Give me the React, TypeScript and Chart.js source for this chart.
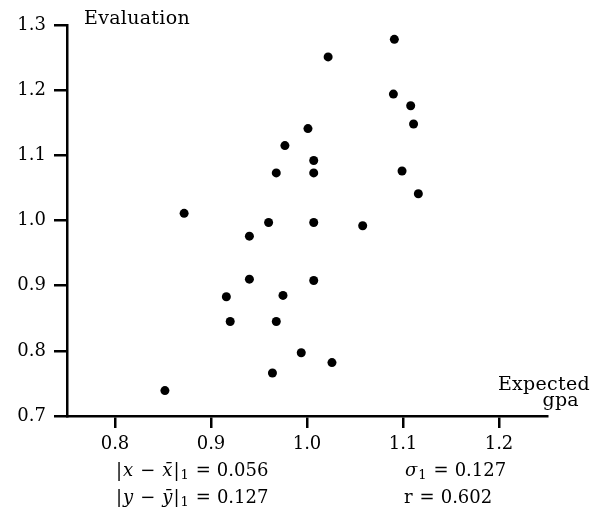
import React, { useEffect, useRef } from "react";
import { Chart, registerables } from "chart.js";

Chart.register(...registerables);

const xTicks = [0.8, 0.9, 1.0, 1.1, 1.2];
const yTicks = [0.7, 0.8, 0.9, 1.0, 1.1, 1.2, 1.3];

const expectedGpa = [
  0.852, 0.872, 0.916, 0.92, 0.94, 0.94, 0.96, 0.964, 0.968, 0.968, 0.975, 0.977, 0.994, 1.001,
  1.007, 1.007, 1.007, 1.007, 1.022, 1.026, 1.058, 1.09, 1.091, 1.099, 1.108, 1.111, 1.116,
];
const evaluation = [
  0.739, 1.011, 0.883, 0.845, 0.91, 0.976, 0.997, 0.766, 0.845, 1.073, 0.885, 1.115, 0.797, 1.141,
  0.908, 0.997, 1.073, 1.092, 1.251, 0.782, 0.992, 1.194, 1.278, 1.076, 1.176, 1.148, 1.041,
];

const yAxisTitle = "Evaluation";
const xAxisTitle = ["Expected", "gpa"];
const statXAbs = "0.056";
const statYAbs = "0.127";
const statSigma = "0.127";
const statR = "0.602";

const FAMILY = '"DejaVu Serif", serif';
const SIZE = 18;

// piece: text, gap before it, italic, subscript
type Seg = { t: string; gap?: number; italic?: boolean; sub?: boolean };

function drawSegs(ctx: CanvasRenderingContext2D, segs: Seg[], x: number, y: number) {
  ctx.textAlign = "left";
  let cx = x;
  for (const s of segs) {
    const size = s.sub ? 13 : SIZE;
    ctx.font = `${s.italic ? "italic " : ""}${size}px ${FAMILY}`;
    cx += s.gap || 0;
    ctx.fillText(s.t, cx, s.sub ? y + 3 : y);
    cx += ctx.measureText(s.t).width;
  }
}

const textPlugin = {
  id: "textPlugin",
  afterDraw(chart: any) {
    const ctx: CanvasRenderingContext2D = chart.ctx;
    ctx.save();
    ctx.fillStyle = "#000";
    ctx.textBaseline = "alphabetic";
    ctx.font = `19px ${FAMILY}`;
    ctx.textAlign = "left";
    (ctx as any).letterSpacing = "0.3px";
    ctx.fillText(yAxisTitle, 84, 24);
    ctx.textAlign = "right";
    ctx.fillText(xAxisTitle[0], 590, 390);
    ctx.fillText(xAxisTitle[1], 579, 406);
    (ctx as any).letterSpacing = "0px";
    drawSegs(
      ctx,
      [
        { t: "|" },
        { t: "x", italic: true, gap: 1 },
        { t: "−", gap: 7 },
        { t: "x\u0304", italic: true, gap: 7 },
        { t: "|", gap: 1 },
        { t: "1", sub: true, gap: 1 },
        { t: "=", gap: 7 },
        { t: statXAbs, gap: 6 },
      ],
      116,
      476
    );
    drawSegs(
      ctx,
      [
        { t: "|" },
        { t: "y", italic: true, gap: 1 },
        { t: "−", gap: 7 },
        { t: "y\u0304", italic: true, gap: 7 },
        { t: "|", gap: 1 },
        { t: "1", sub: true, gap: 1 },
        { t: "=", gap: 7 },
        { t: statYAbs, gap: 6 },
      ],
      116,
      503
    );
    drawSegs(
      ctx,
      [
        { t: "σ", italic: true },
        { t: "1", sub: true, gap: 1 },
        { t: "=", gap: 7 },
        { t: statSigma, gap: 6 },
      ],
      405,
      476
    );
    drawSegs(
      ctx,
      [
        { t: "r" },
        { t: "=", gap: 7 },
        { t: statR, gap: 6 },
      ],
      404,
      503
    );
    ctx.restore();
  },
};

export default function App() {
  const ref = useRef<HTMLCanvasElement | null>(null);
  useEffect(() => {
    if (!ref.current) return;
    const chart = new Chart(ref.current, {
      type: "scatter",
      data: {
        datasets: [
          {
            data: expectedGpa.map((x, i) => ({ x, y: evaluation[i] })),
            backgroundColor: "#000",
            borderWidth: 0,
            pointRadius: 4.5,
            pointHoverRadius: 4.5,
          },
        ],
      },
      options: {
        animation: false,
        responsive: false,
        maintainAspectRatio: false,
        events: [],
        layout: { padding: { top: 25, right: 56, left: 0, bottom: 0 } },
        plugins: { legend: { display: false }, tooltip: { enabled: false } },
        scales: {
          x: {
            type: "linear",
            min: 0.75,
            max: 1.25,
            afterFit: (s: any) => {
              s.height = 91;
            },
            afterBuildTicks: (s: any) => {
              s.ticks = xTicks.map((v) => ({ value: v }));
            },
            ticks: {
              color: "#000",
              font: { family: FAMILY, size: SIZE },
              padding: 6,
              maxRotation: 0,
              callback: (v: any) => Number(v).toFixed(1),
            },
            grid: { drawOnChartArea: false, drawTicks: true, tickLength: 12, lineWidth: 2.5, color: "#000" },
            border: { display: true, color: "#000", width: 2.5 },
          },
          y: {
            type: "linear",
            min: 0.7,
            max: 1.3,
            afterFit: (s: any) => {
              s.width = 67;
            },
            afterBuildTicks: (s: any) => {
              s.ticks = yTicks.map((v) => ({ value: v }));
            },
            ticks: {
              color: "#000",
              font: { family: FAMILY, size: SIZE },
              padding: 8,
              callback: (v: any) => Number(v).toFixed(1),
            },
            grid: { drawOnChartArea: false, drawTicks: true, tickLength: 13, lineWidth: 2.5, color: "#000" },
            border: { display: true, color: "#000", width: 2.5 },
          },
        },
      },
      plugins: [textPlugin],
    });
    return () => chart.destroy();
  }, []);
  return (
    <div style={{ position: "absolute", left: 0, top: 0, width: 603, height: 507, background: "#fff" }}>
      <canvas ref={ref} width={603} height={507} style={{ display: "block", width: 603, height: 507 }} />
    </div>
  );
}
